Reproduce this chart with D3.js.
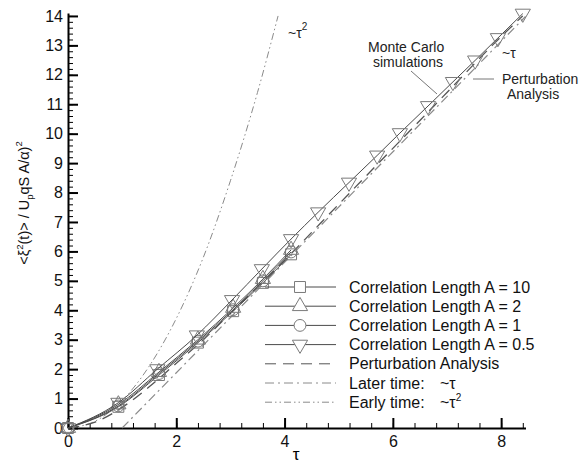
<!DOCTYPE html>
<html>
<head>
<meta charset="utf-8">
<script src="https://cdn.jsdelivr.net/npm/d3@7"></script>
<style>
  body { margin: 0; background: #fff; }
  text { font-family: 'Liberation Sans', Arial, Helvetica, sans-serif; }
</style>
</head>
<body>
<svg width="583" height="464"></svg>
<script>
/* global d3 */
var svg = d3.select('svg')

// Monte Carlo runs
var tauMC = [0, 0.93, 1.68, 2.4, 3.05, 3.6, 4.12]
var corr10 = [0, 0.72, 1.8, 2.9, 3.97, 4.93, 5.9]
var corr2 = [0, 0.8, 1.9, 3.0, 4.08, 5.06, 6.05]
var corr1 = [0, 0.75, 1.85, 2.95, 4.02, 5.0, 5.98]

var tauHalf = [0, 0.93, 1.65, 2.38, 3.03, 3.58, 4.12, 4.62, 5.19, 5.71, 6.13, 6.65, 7.11, 7.52, 7.94, 8.4]
var corrHalf = [0, 0.86, 2.0, 3.15, 4.35, 5.4, 6.42, 7.33, 8.34, 9.26, 10.02, 10.94, 11.76, 12.49, 13.25, 14.08]

// perturbation analysis
var tauPert = [0, 0.5, 1, 1.5, 2, 2.5, 3, 4, 5, 6, 7, 8, 8.4]
var pert = [0, 0.2, 0.7, 1.4, 2.2, 3.0, 3.9, 5.7, 7.6, 9.5, 11.4, 13.3, 14.0]

// asymptotes
var tauLate = [1.0, 8.45]
var late = [0, 13.98]
var tauEarly = [0, 0.5, 1, 1.5, 2, 2.5, 3, 3.5, 3.88]
var early = [0, 0.23, 0.93, 2.1, 3.72, 5.8, 8.4, 11.4, 14.0]

var legendLabels = ['Correlation Length A = 10', 'Correlation Length A = 2',
  'Correlation Length A = 1', 'Correlation Length A = 0.5', 'Perturbation Analysis']

var x = d3.scaleLinear().domain([0, 8.45]).range([68, 525.5])
var y = d3.scaleLinear().domain([0, 14.1]).range([428, 13])

var mcC = '#4a4a4a'
var markC = '#7a7a7a'
var thinC = '#8a8a8a'

// ---------- axes ----------
var xMinor = svg.append('g')
  .attr('transform', 'translate(0,' + y(0) + ')')
  .call(d3.axisBottom(x).tickValues(d3.range(0, 8.45, 0.4)).tickSize(-5).tickFormat(''))
xMinor.select('.domain').remove()
xMinor.selectAll('line').attr('stroke', '#000').attr('stroke-width', 1)

var xAxis = svg.append('g')
  .attr('transform', 'translate(0,' + y(0) + ')')
  .call(d3.axisBottom(x).tickValues([0, 2, 4, 6, 8]).tickSize(-10).tickPadding(4).tickSizeOuter(0))
xAxis.select('.domain').attr('stroke-width', 2)
xAxis.selectAll('line').attr('stroke-width', 2)
xAxis.selectAll('text').attr('font-size', 16).attr('fill', '#111').attr('dy', '0.95em')

var yMinor = svg.append('g')
  .attr('transform', 'translate(' + x(0) + ',0)')
  .call(d3.axisLeft(y).tickValues(d3.range(0, 14.05, 0.2)).tickSize(-5).tickFormat(''))
yMinor.select('.domain').remove()
yMinor.selectAll('line').attr('stroke', '#000').attr('stroke-width', 1)

var yAxis = svg.append('g')
  .attr('transform', 'translate(' + x(0) + ',0)')
  .call(d3.axisLeft(y).tickValues(d3.range(0, 15, 1)).tickSize(-10).tickPadding(5).tickSizeOuter(0))
yAxis.select('.domain').attr('stroke-width', 2)
yAxis.selectAll('line').attr('stroke-width', 2)
yAxis.selectAll('text').attr('font-size', 16).attr('fill', '#111')

svg.append('text')
  .attr('x', 296).attr('y', 460)
  .attr('text-anchor', 'middle')
  .attr('font-size', 17)
  .text('τ')

var yl = svg.append('text')
  .attr('transform', 'translate(29,203) rotate(-90)')
  .attr('text-anchor', 'middle')
  .attr('font-size', 14.5)
  .attr('fill', '#111')
yl.append('tspan').text('<ξ')
yl.append('tspan').attr('font-size', 9.5).attr('dy', -6).text('2')
yl.append('tspan').attr('dy', 6).text('(t)> / U')
yl.append('tspan').attr('font-size', 9.5).attr('dy', 4).text('p')
yl.append('tspan').attr('dy', -4).text('qS A/α)')
yl.append('tspan').attr('font-size', 9.5).attr('dy', -7).text('2')

// ---------- curves ----------
var line = d3.line().x(d => x(d[0])).y(d => y(d[1]))
var pairs = (t, v) => t.map((d, i) => [d, v[i]])

svg.append('path')
  .datum(pairs(tauEarly, early))
  .attr('d', line.curve(d3.curveMonotoneX))
  .attr('fill', 'none').attr('stroke', thinC).attr('stroke-width', 1)
  .attr('stroke-dasharray', '7,3,1.5,3,1.5,3')

svg.append('path')
  .datum(pairs(tauLate, late))
  .attr('d', line.curve(d3.curveLinear))
  .attr('fill', 'none').attr('stroke', thinC).attr('stroke-width', 1.2)
  .attr('stroke-dasharray', '9,4,2,4')

svg.append('path')
  .datum(pairs(tauPert, pert))
  .attr('d', line.curve(d3.curveMonotoneX))
  .attr('fill', 'none').attr('stroke', '#555').attr('stroke-width', 1.3)
  .attr('stroke-dasharray', '11,7')

var series = [
  { t: tauMC, v: corr10, sym: d3.symbolSquare, rot: 0, size: 120 },
  { t: tauMC, v: corr2, sym: d3.symbolTriangle, rot: 0, size: 100 },
  { t: tauMC, v: corr1, sym: d3.symbolCircle, rot: 0, size: 110 },
  { t: tauHalf, v: corrHalf, sym: d3.symbolTriangle, rot: 180, size: 100 }
]

series.forEach(s => {
  svg.append('path')
    .datum(pairs(s.t, s.v))
    .attr('d', line.curve(d3.curveMonotoneX))
    .attr('fill', 'none').attr('stroke', mcC).attr('stroke-width', 1)
  svg.append('g').selectAll('path')
    .data(pairs(s.t, s.v))
    .enter().append('path')
      .attr('d', d3.symbol().type(s.sym).size(s.size))
      .attr('transform', d => 'translate(' + x(d[0]) + ',' + y(d[1]) + ') rotate(' + s.rot + ')')
      .attr('fill', 'none').attr('stroke', markC).attr('stroke-width', 1)
})

// ---------- legend ----------
var leg = svg.append('g')
var rowY = i => 287 + i * 19.2
var dashes = [null, null, null, null, '11,7', '9,4,2,4', '7,3,1.5,3,1.5,3']
dashes.forEach((dash, i) => {
  leg.append('line')
    .attr('x1', 265).attr('x2', 336)
    .attr('y1', rowY(i)).attr('y2', rowY(i))
    .attr('stroke', i < 4 ? mcC : (i === 4 ? '#555' : thinC))
    .attr('stroke-width', 1)
    .attr('stroke-dasharray', dash)
  if (i < 4) {
    leg.append('path')
      .attr('d', d3.symbol().type(series[i].sym).size(series[i].size))
      .attr('transform', 'translate(300,' + rowY(i) + ') rotate(' + series[i].rot + ')')
      .attr('fill', '#fff').attr('stroke', markC)
  }
})
legendLabels.forEach((l, i) => {
  leg.append('text')
    .attr('x', 349).attr('y', rowY(i)).attr('dy', '0.35em')
    .attr('font-size', 16).attr('fill', '#111')
    .text(l)
})
var lt = leg.append('text').attr('x', 349).attr('y', rowY(5)).attr('dy', '0.35em')
  .attr('font-size', 16).attr('fill', '#111')
lt.append('tspan').text('Later time:')
lt.append('tspan').attr('x', 440).text('~τ')
var et = leg.append('text').attr('x', 349).attr('y', rowY(6)).attr('dy', '0.35em')
  .attr('font-size', 16).attr('fill', '#111')
et.append('tspan').text('Early time:')
et.append('tspan').attr('x', 440).text('~τ')
et.append('tspan').attr('font-size', 10).attr('dy', -7).text('2')

// ---------- annotations ----------
var ann = svg.append('g').attr('font-size', 14).attr('fill', '#222')
var t2 = ann.append('text').attr('x', 288).attr('y', 38)
t2.append('tspan').text('~τ')
t2.append('tspan').attr('font-size', 10).attr('dy', -8).text('2')
ann.append('text').attr('x', 368).attr('y', 52).text('Monte Carlo')
ann.append('text').attr('x', 373).attr('y', 67).text('simulations')
ann.append('line').attr('x1', 411).attr('y1', 71).attr('x2', 437).attr('y2', 94)
  .attr('stroke', '#777').attr('stroke-width', 1)
ann.append('text').attr('x', 502).attr('y', 58).text('~τ')
ann.append('text').attr('x', 502).attr('y', 84).text('Perturbation')
ann.append('text').attr('x', 507).attr('y', 99).text('Analysis')
ann.append('line').attr('x1', 473).attr('y1', 79).attr('x2', 494).attr('y2', 79)
  .attr('stroke', '#777').attr('stroke-width', 1)
</script>
</body>
</html>
